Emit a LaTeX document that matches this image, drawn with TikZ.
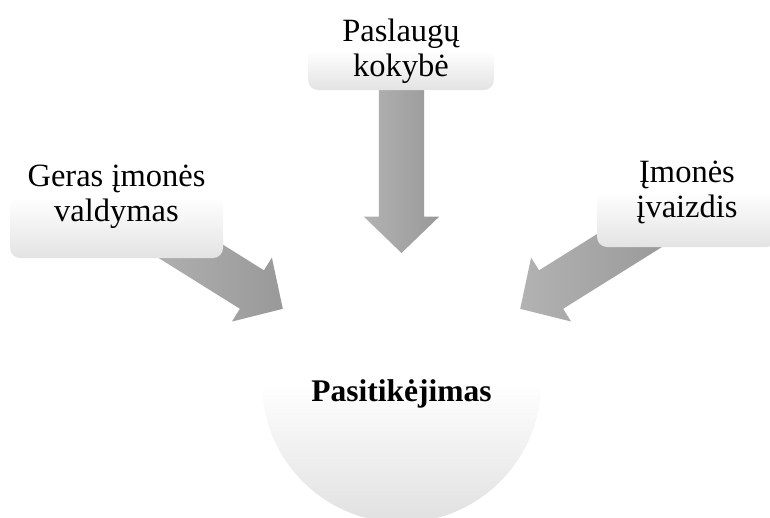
\documentclass[tikz,border=0pt]{standalone}
\usepackage{fontspec}
\setmainfont{Liberation Serif}
\usetikzlibrary{shapes.arrows}
\begin{document}
\begin{tikzpicture}[x=1pt,y=-1pt,
  box/.style={rounded corners=10pt,top color=white,bottom color=black!11,middle color=white,
    align=center,inner sep=0pt,font=\fontsize{32.5}{35}\selectfont},
  hubstyle/.style={circle,minimum size=279pt,inner sep=0pt,top color=white,bottom color=black!12,middle color=white},
  flow/.style={single arrow,single arrow head extend=15pt,single arrow tip angle=92,
    single arrow head indent=0pt,minimum height=#1,inner xsep=0pt,inner ysep=22.5pt,
    left color=black!30,right color=black!40}]
\useasboundingbox (0,0) rectangle (770,517);
% centre
\node[hubstyle] (hub) at (401.5,383) {};
\node[anchor=base,font=\bfseries\fontsize{31.5}{35}\selectfont] (trust) at (401.5,401.7) {Pasitikėjimas};
% arrows into the centre
\node[flow=163pt,rotate=-90,anchor=tip] (a-top) at ([yshift=-10pt]hub.north) {};
\node[flow=160pt,rotate=-32,anchor=tip] (a-left) at (hub.148) {};
\node[flow=160pt,rotate=-148,anchor=tip] (a-right) at (hub.32) {};
% boxes
\node[box,minimum width=186pt,minimum height=78pt] (kokybe) at (401,51) {Paslaugų\\kokybė};
\node[box,minimum width=213pt,minimum height=122pt] (valdymas) at (116.5,197) {Geras įmonės\\valdymas};
\node[box,minimum width=180pt,minimum height=110pt] (ivaizdis) at (687,192) {Įmonės\\įvaizdis};
\end{tikzpicture}
\end{document}
